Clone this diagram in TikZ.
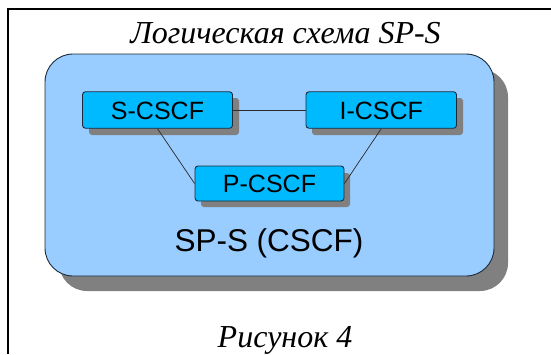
\documentclass[tikz,border=0pt]{standalone}
\usepackage{fontspec}
\setmainfont{Liberation Serif}
\setsansfont{Liberation Sans}
\begin{document}
\begin{tikzpicture}[x=1pt,y=-1pt,
  bigfill/.style={fill=bigblue,draw=edgecol,line width=0.9pt,rounded corners=28pt},
  shadowbox/.style={fill=shadowgray,draw=none},
  cscfbox/.style={fill=boxblue,draw=edgecol,line width=0.9pt,rounded corners=3pt},
  lbl/.style={font=\sffamily\fontsize{25}{28}\selectfont,inner sep=0pt,anchor=base},
  conn/.style={draw=linecol,line width=0.7pt}]
\definecolor{bigblue}{HTML}{99CCFF}
\definecolor{boxblue}{HTML}{00BAFF}
\definecolor{shadowgray}{HTML}{808080}
\definecolor{edgecol}{HTML}{1C2A3A}
\definecolor{linecol}{HTML}{2A2A2A}
\useasboundingbox (0,0) rectangle (551,354);
% frame
\draw[line width=1.4pt] (551,9) -- (8,9) -- (8,354);
% title
\node[font=\itshape\fontsize{32}{36}\selectfont,inner sep=0pt,anchor=base] (title) at (285.5,43) {Логическая схема SP-S};
% big rounded rectangle with shadow
\fill[shadowgray,rounded corners=28pt] (59,69) rectangle (508,291);
\path[bigfill] (45,54) rectangle (494,276);
% small boxes shadows
\fill[shadowgray,rounded corners=3pt] (89,98) rectangle (239,135);
\fill[shadowgray,rounded corners=3pt] (312,98) rectangle (463,135);
\fill[shadowgray,rounded corners=3pt] (201,173) rectangle (350,207);
% boxes
\node[cscfbox,minimum width=150pt,minimum height=36.5pt,inner sep=0pt] (s) at (157.5,110) {};
\node[cscfbox,minimum width=150.5pt,minimum height=36.5pt,inner sep=0pt] (i) at (381.25,110) {};
\node[cscfbox,minimum width=149pt,minimum height=35pt,inner sep=0pt] (p) at (269.5,183.5) {};
\draw[conn] (s.east) -- (i.west);
\draw[conn] (s.south) -- (p.west);
\draw[conn] (i.south) -- (p.east);
\node[lbl] (sl) at (s.center) [yshift=-9pt] {S-CSCF};
\node[lbl] (il) at (i.center) [yshift=-9pt] {I-CSCF};
\node[lbl] (pl2) at (p.center) [yshift=-9pt] {P-CSCF};
% big label
\node[font=\sffamily\fontsize{31.5}{36}\selectfont,inner sep=0pt,anchor=base] (big) at (269,251.5) {SP-S (CSCF)};
% caption
\node[font=\itshape\fontsize{32}{36}\selectfont,inner sep=0pt,anchor=base] (cap) at (285,347) {Рисунок 4};
\end{tikzpicture}
\end{document}
